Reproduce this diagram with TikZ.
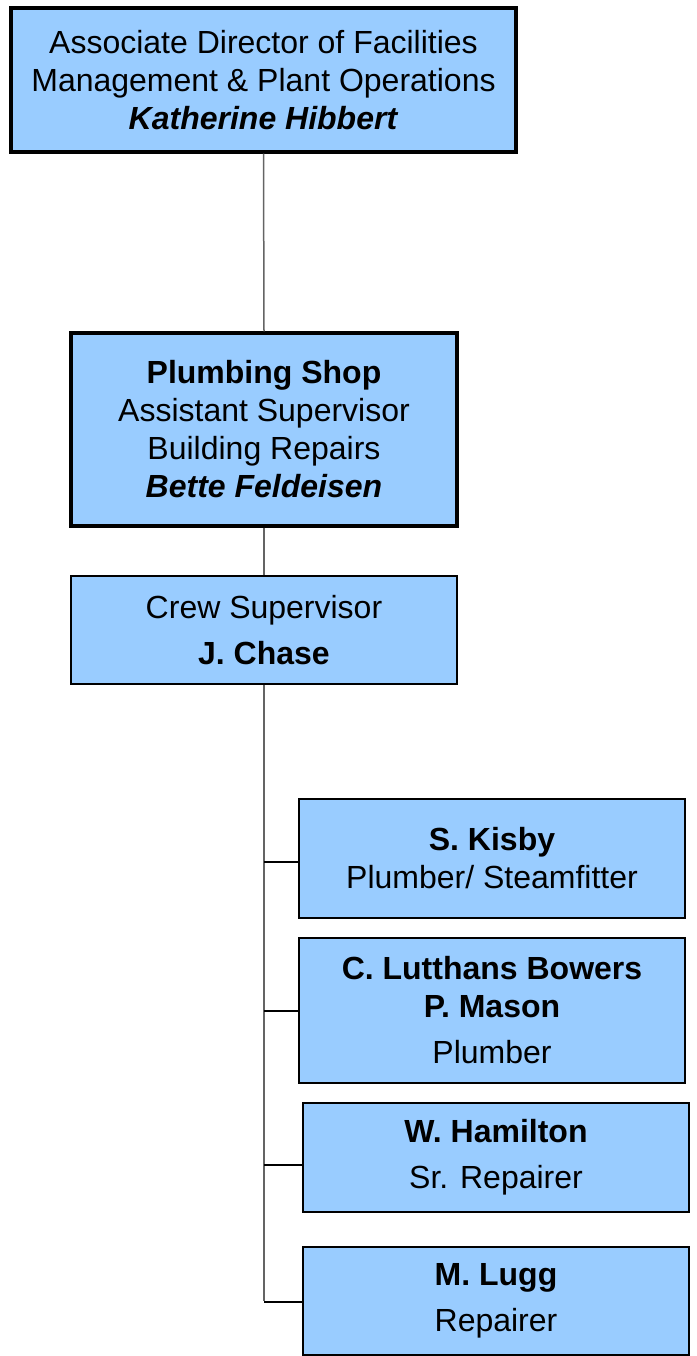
\documentclass[tikz,border=0pt]{standalone}
\usepackage{fontspec}
\setmainfont{Liberation Sans}
\usetikzlibrary{calc}
\definecolor{boxblue}{RGB}{153,204,255}
\definecolor{trunkgray}{RGB}{100,100,100}
\tikzset{
    unitbox/.style={draw=black,fill=boxblue,align=center,inner sep=0pt,
        minimum width=386pt,font=\fontsize{32}{38}\selectfont},
    headbox/.style={unitbox,line width=3.4pt},
    staffbox/.style={unitbox,line width=2pt},
    trunk/.style={trunkgray,line width=1.5pt},
    stub/.style={black,line width=2pt}
}

\begin{document}
\begin{tikzpicture}[x=1pt,y=-1pt]
    \useasboundingbox (0,0) rectangle (696,1356);
    % Management
    \node[headbox,minimum width=505pt,minimum height=144pt] (director) at (263.5,80)
        {Associate Director of Facilities\\Management \& Plant Operations\\\textbf{\textit{Katherine Hibbert}}};
    \node[headbox,minimum height=193pt] (shop) at (264,429.5)
        {\textbf{Plumbing Shop}\\Assistant Supervisor\\Building Repairs\\\textbf{\textit{Bette Feldeisen}}};
    \node[staffbox,minimum height=108pt] (crew) at (264,630)
        {Crew Supervisor\\[8pt]\textbf{J. Chase}};
    % Crew members
    \node[staffbox,minimum height=119pt] (kisby) at (492,858.5)
        {\textbf{S. Kisby}\\Plumber/ Steamfitter};
    \node[staffbox,minimum height=145pt] (bowers) at (492,1010.5)
        {\textbf{C. Lutthans Bowers}\\\textbf{P. Mason}\\[8pt]Plumber};
    \node[staffbox,minimum height=109pt] (hamilton) at (496,1157.5)
        {\textbf{W. Hamilton}\\[8pt]Sr. Repairer};
    \node[staffbox,minimum height=108pt] (lugg) at (496,1301)
        {\textbf{M. Lugg}\\[8pt]Repairer};
    % Lines
    \draw[trunk] (director.south) -- (shop.north);
    \draw[trunk] (shop.south) -- (crew.north);
    \draw[trunk] (crew.south) -- (crew.south |- lugg.west);
    \foreach \member/\dy in {kisby/-3.5,bowers/0,hamilton/-7.5,lugg/-1}
        \draw[stub] ([yshift=\dy pt]crew.south |- \member.west) -- ([yshift=\dy pt]\member.west);
\end{tikzpicture}
\end{document}
